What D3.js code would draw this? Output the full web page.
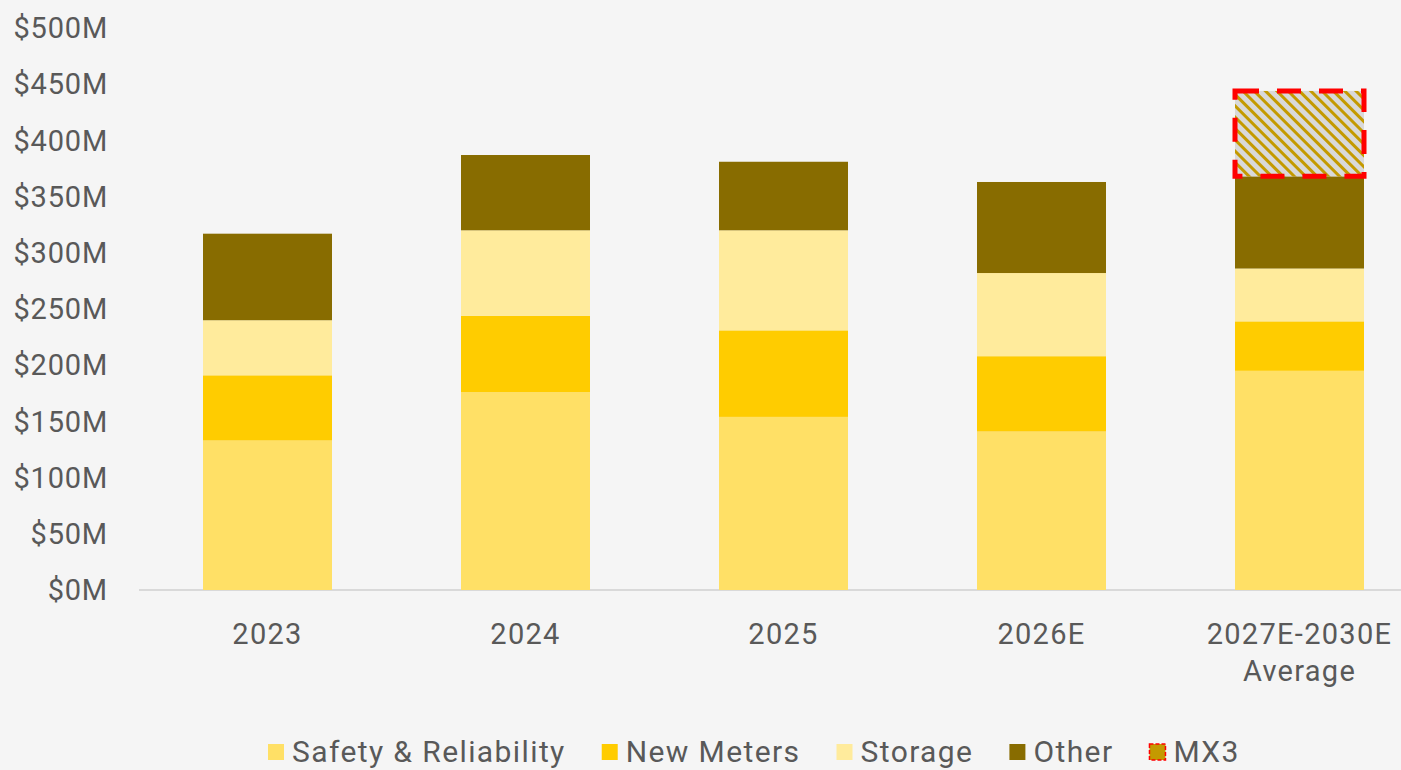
<!DOCTYPE html>
<html>
<head>
<meta charset="utf-8">
<script src="https://cdn.jsdelivr.net/npm/d3@7"></script>
<style>
  body { margin: 0; background: #f5f5f5; }
  svg { display: block; }
  text { font-family: Roboto, "Noto Sans", sans-serif; fill: #595959; }
</style>
</head>
<body>
<div id="container"></div>
<script>
var w = 1401;
var h = 770;

// data ($M)
var years = ["2023", "2024", "2025", "2026E", "2027E-2030E Average"];
var safety = [133, 176, 154, 141, 195];
var newMeters = [58, 68, 77, 67, 44];
var storage = [49, 76, 89, 74, 47];
var other = [77, 67, 61, 81, 82];
var mx3 = [0, 0, 0, 0, 76];
var yTicks = [0, 50, 100, 150, 200, 250, 300, 350, 400, 450, 500];

var seriesNames = ["Safety & Reliability", "New Meters", "Storage", "Other", "MX3"];
var seriesColors = ["#ffe066", "#ffcc00", "#ffeb9c", "#886c00", "#c49a00"];

var rows = years.map(function(y, i) {
  return { year: y, "Safety & Reliability": safety[i], "New Meters": newMeters[i],
           "Storage": storage[i], "Other": other[i], "MX3": mx3[i] };
});

var svg = d3.select("div#container").append("svg")
    .attr("width", w).attr("height", h)
    .style("background-color", "#f5f5f5");

var defs = svg.append("defs");
var pat = defs.append("pattern")
    .attr("id", "hatch")
    .attr("patternUnits", "userSpaceOnUse")
    .attr("width", 8).attr("height", 8)
    .attr("patternTransform", "rotate(45)");
pat.append("rect").attr("width", 8).attr("height", 8).attr("fill", "#d9d9d9");
pat.append("rect").attr("width", 8).attr("height", 3).attr("fill", "#c49a00");

var x = d3.scaleBand()
    .domain(years)
    .range([138.5, 1428.5])
    .paddingInner(0.5)
    .paddingOuter(0.25);

var y = d3.scaleLinear()
    .domain([0, 500])
    .range([590, 28]);

// baseline
svg.append("line")
    .attr("x1", 139).attr("x2", w)
    .attr("y1", y(0)).attr("y2", y(0))
    .attr("stroke", "#d9d9d9").attr("stroke-width", 2);

// y axis labels
svg.append("g").selectAll("text")
  .data(yTicks)
  .enter().append("text")
    .attr("x", 108)
    .attr("y", function(d) { return y(d); })
    .attr("dy", "0.35em")
    .attr("text-anchor", "end")
    .attr("font-size", 29)
    .attr("letter-spacing", 0.8)
    .text(function(d) { return "$" + d + "M"; });

var stack = d3.stack().keys(seriesNames);
var layers = stack(rows);

var g = svg.append("g");
layers.forEach(function(layer, k) {
  g.append("g").selectAll("rect")
    .data(layer.filter(function(d) { return d[1] > d[0]; }))
    .enter().append("rect")
      .attr("x", function(d) { return x(d.data.year); })
      .attr("width", x.bandwidth())
      .attr("y", function(d) { return y(d[1]); })
      .attr("height", function(d) { return y(d[0]) - y(d[1]); })
      .attr("fill", layer.key == "MX3" ? "url(#hatch)" : seriesColors[k])
      .attr("stroke", layer.key == "MX3" ? "#ff0000" : "none")
      .attr("stroke-width", 5)
      .attr("stroke-dasharray", "24,18");
});

// category labels
var cat = svg.append("g").selectAll("text")
  .data(years)
  .enter().append("text")
    .attr("text-anchor", "middle")
    .attr("font-size", 29)
    .attr("letter-spacing", 1.3)
    .attr("x", function(d) { return x(d) + x.bandwidth() / 2; })
    .attr("y", 644);
cat.each(function(d) {
  var t = d3.select(this);
  var parts = d == "2027E-2030E Average" ? ["2027E-2030E", "Average"] : [d];
  parts.forEach(function(p, i) {
    t.append("tspan")
      .attr("x", x(d) + x.bandwidth() / 2)
      .attr("dy", i == 0 ? 0 : 37)
      .text(p);
  });
});

// legend
var leg = svg.append("g");
var lx = 268;
seriesNames.forEach(function(name, i) {
  var item = leg.append("g").attr("transform", "translate(" + lx + ",0)");
  item.append("rect")
    .attr("x", 0).attr("y", 744)
    .attr("width", 16).attr("height", 16)
    .attr("fill", seriesColors[i])
    .attr("stroke", name == "MX3" ? "#ff0000" : "none")
    .attr("stroke-width", 1.5)
    .attr("stroke-dasharray", name == "MX3" ? "4,2" : null);
  var t = item.append("text")
    .attr("x", 24).attr("y", 762)
    .attr("font-size", 30)
    .attr("letter-spacing", 1.4)
    .text(name);
  lx += 24 + t.node().getComputedTextLength() + 36;
});
</script>
</body>
</html>
